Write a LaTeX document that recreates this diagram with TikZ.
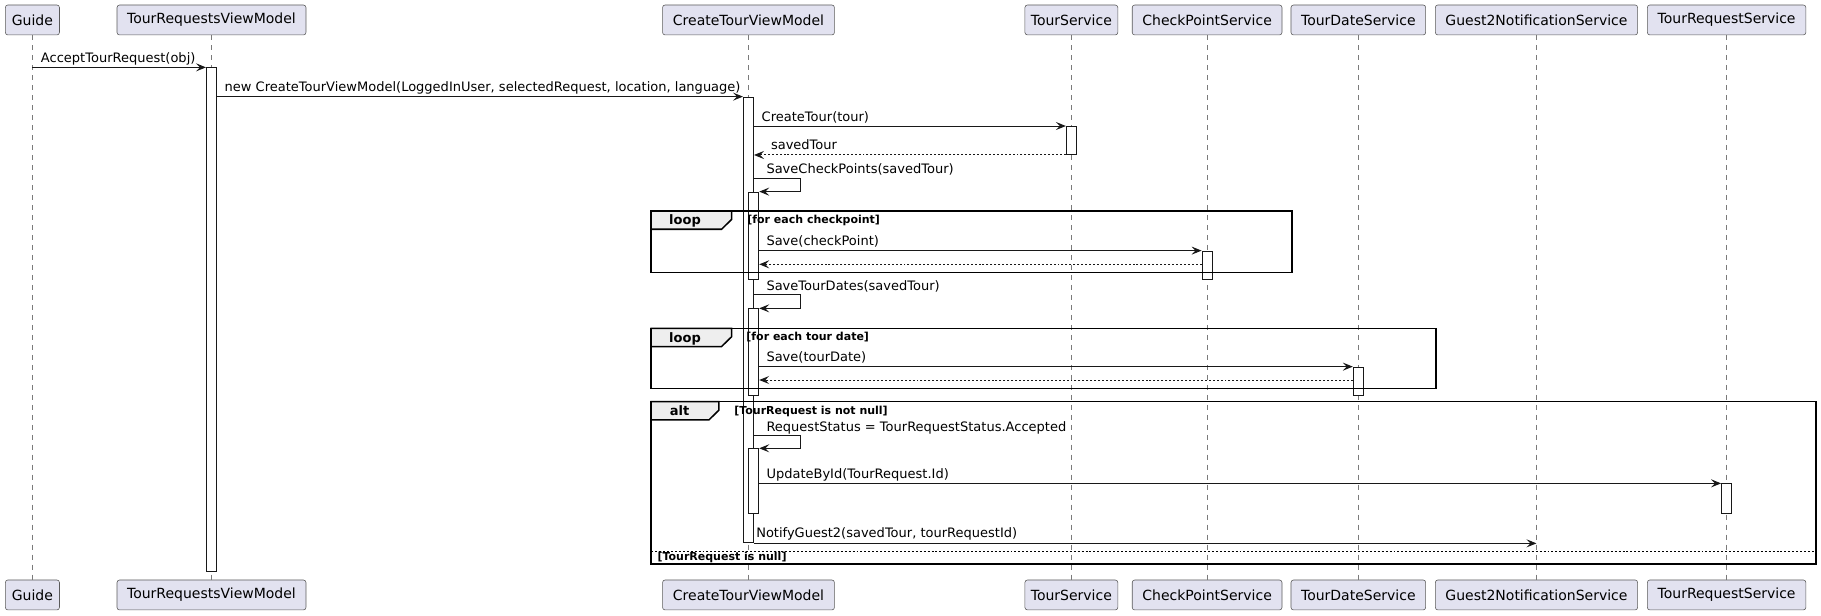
\documentclass[tikz,border=0pt]{standalone}
\usepackage{fontspec}
\setmainfont{DejaVu Sans}
\usetikzlibrary{arrows.meta}
\definecolor{pbox}{HTML}{E2E2F0}
\definecolor{ink}{HTML}{181818}
\definecolor{boxline}{HTML}{5A5A5A}
\definecolor{lifegray}{HTML}{7A7A7A}
\definecolor{tabfill}{HTML}{EEEEEE}
\begin{document}
\begin{tikzpicture}[x=1pt,y=-1pt,
  participant/.style={draw=boxline, line width=0.5pt, fill=pbox, rounded corners=2.2pt,
    minimum height=25.8pt, inner sep=0pt, font=\fontsize{12.05}{14}\selectfont, text=black},
  lifeline/.style={draw=lifegray, line width=0.45pt, dash pattern=on 4.3pt off 4.3pt},
  actbox/.style={draw=ink, line width=0.86pt, fill=white, minimum width=8.6pt, inner sep=0pt, anchor=north},
  msg/.style={draw=ink, line width=0.86pt, -{Stealth[length=8.6pt,width=6.9pt,inset=3.4pt]}},
  ret/.style={msg, dash pattern=on 1.7pt off 1.7pt},
  lbl/.style={font=\fontsize{11.2}{13}\selectfont, inner sep=0pt, anchor=base west},
  framebox/.style={draw=black, line width=1.3pt},
  tabshape/.style={draw=black, line width=1.3pt, fill=tabfill},
  kind/.style={font=\bfseries\fontsize{11.2}{13}\selectfont, inner sep=0pt, anchor=base west},
  guard/.style={font=\bfseries\fontsize{9.47}{11}\selectfont, inner sep=0pt, anchor=base west},
]
\useasboundingbox (0,0) rectangle (1568,530);

% participants, head and foot
\foreach \n/\x/\w/\t in {guide/27.9/46.6/Guide, trvm/182.1/162.7/TourRequestsViewModel,
    ctvm/644.5/148/CreateTourViewModel, ts/922.5/80/TourService,
    cps/1039.4/129/CheckPointService, tds/1169.6/116/TourDateService,
    gns/1323/174.2/Guest2NotificationService, trs/1486.7/136.5/TourRequestService}{
  \node[participant, minimum width=\w pt] (\n T) at (\x,17.2) {\t};
  \node[participant, minimum width=\w pt] (\n B) at (\x,512.3) {\t};
  \draw[lifeline] (\n T.south) -- (\n B.north);
}

% activation bars
\node[actbox, minimum height=433.7pt] (aR) at (182.1,58) {};
\node[actbox, minimum height=383.8pt] (aC) at (644.5,83.2) {};
\node[actbox, minimum height=24.1pt] (aS) at (922.5,108.5) {};
\node[actbox, minimum height=75.5pt] (aC2) at (649,165) {};
\node[actbox, minimum height=24.7pt] (aP) at (1039.4,215.8) {};
\node[actbox, minimum height=74.6pt] (aC3) at (649,265.5) {};
\node[actbox, minimum height=24.4pt] (aD) at (1169.6,315.7) {};
\node[actbox, minimum height=56pt] (aC4) at (649,386) {};
\node[actbox, minimum height=25.8pt] (aQ) at (1486.7,416.2) {};

% combined fragments
\draw[framebox] (560.7,181.7) rectangle (1112.3,234.8);
\draw[tabshape] (560.7,181.7) -- (629.9,181.7) -- (629.9,189) -- (621.3,197.4) -- (560.7,197.4) -- cycle;
\node[kind] (k1) at (576,193.7) {loop};
\node[guard] (g1) at (643.3,192.6) {[for each checkpoint]};

\draw[framebox] (560.7,282.7) rectangle (1236.4,334.4);
\draw[tabshape] (560.7,282.7) -- (629.9,282.7) -- (629.9,290) -- (621.3,298.4) -- (560.7,298.4) -- cycle;
\node[kind] (k2) at (576,294.7) {loop};
\node[guard] (g2) at (642.5,293.6) {[for each tour date]};

\draw[framebox] (560.7,345.9) rectangle (1563.5,485.6);
\draw[tabshape] (560.7,345.9) -- (619,345.9) -- (619,353.2) -- (610.4,361.6) -- (560.7,361.6) -- cycle;
\node[kind] (k3) at (576.5,357.9) {alt};
\node[guard] (g3) at (632.1,356.8) {[TourRequest is not null]};
\draw[draw=black, line width=0.86pt, dash pattern=on 1.7pt off 1.7pt] (560.7,475) -- (1563.5,475);
\node[guard] (g4) at (566,482.6) {[TourRequest is null]};

% messages
\draw[msg] (guideT.south |- aR.north) -- (aR.north west);
\node[lbl] (m1) at (35.1,54) {AcceptTourRequest(obj)};

\draw[msg] (aR.east |- aC.north) -- (aC.north west);
\node[lbl] (m2) at (193.3,79.2) {new CreateTourViewModel(LoggedInUser, selectedRequest, location, language)};

\draw[msg] (aC.east |- aS.north) -- (aS.north west);
\node[lbl] (m3) at (655.7,104.5) {CreateTour(tour)};

\draw[ret] (aS.south west) -- (aC.east |- aS.south);
\node[lbl] (m4) at (663.7,128.8) {savedTour};

\coordinate (s1) at (0,153.5);
\draw[msg] (aC.east |- s1) -- ++(40,0) |- (aC2.north east);
\node[lbl] (m5) at (659.8,149.6) {SaveCheckPoints(savedTour)};

\draw[msg] (aC2.east |- aP.north) -- (aP.north west);
\node[lbl] (m6) at (659.8,211.8) {Save(checkPoint)};
\coordinate (r1) at (0,227.6);
\draw[ret] (aP.west |- r1) -- (aC2.east |- r1);

\coordinate (s2) at (0,254);
\draw[msg] (aC.east |- s2) -- ++(40,0) |- (aC3.north east);
\node[lbl] (m7) at (659.8,250.1) {SaveTourDates(savedTour)};

\draw[msg] (aC3.east |- aD.north) -- (aD.north west);
\node[lbl] (m8) at (659.8,311.7) {Save(tourDate)};
\coordinate (r2) at (0,327.2);
\draw[ret] (aD.west |- r2) -- (aC3.east |- r2);

\coordinate (s3) at (0,375.1);
\draw[msg] (aC.east |- s3) -- ++(40,0) |- (aC4.north east);
\node[lbl] (m9) at (659.8,371.2) {RequestStatus = TourRequestStatus.Accepted};

\draw[msg] (aC4.east |- aQ.north) -- (aQ.north west);
\node[lbl] (m10) at (659.8,412.2) {UpdateById(TourRequest.Id)};

\draw[msg] (aC.south east) -- (gnsT.south |- aC.south);
\node[lbl] (m11) at (651,463) {NotifyGuest2(savedTour, tourRequestId)};
\end{tikzpicture}
\end{document}
